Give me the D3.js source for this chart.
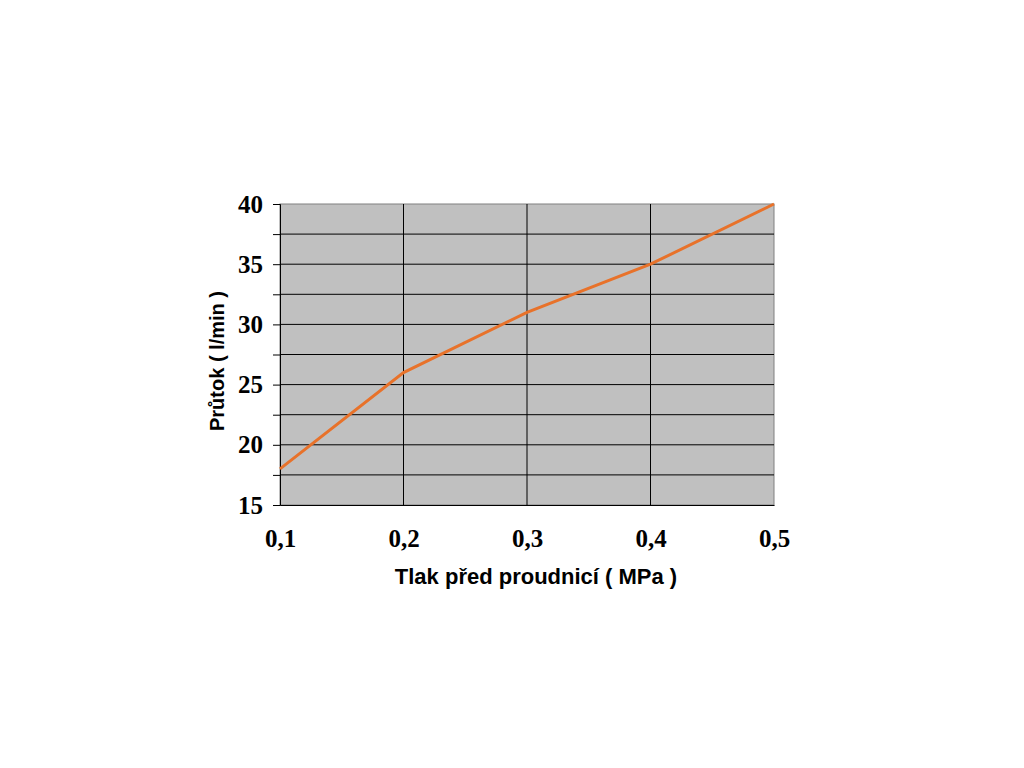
<!DOCTYPE html>
<html><head><meta charset="utf-8">
<script src="https://cdn.jsdelivr.net/npm/d3@7"></script>
<style>body{margin:0;background:#fff;}</style>
</head><body>
<svg id="c" width="1024" height="768"></svg>
<script>
const pressure = [0.1, 0.2, 0.3, 0.4, 0.5];
const flow = [18, 26, 31, 35, 40];
const xTicks = [0.1, 0.2, 0.3, 0.4, 0.5];
const yTicks = [15, 17.5, 20, 22.5, 25, 27.5, 30, 32.5, 35, 37.5, 40];
const yLabels = [15, 20, 25, 30, 35, 40];
const xTitle = "Tlak před proudnicí ( MPa )";
const yTitle = "Průtok ( l/min )";

const svg = d3.select("#c");
const L = 280, R = 774, T = 204, B = 505;
const x = d3.scaleLinear().domain([0.1, 0.5]).range([L, R]);
const y = d3.scaleLinear().domain([15, 40]).range([B, T]);

svg.append("rect").attr("x", L).attr("y", T).attr("width", R - L).attr("height", B - T)
  .attr("fill", "#c0c0c0").attr("stroke", "#808080").attr("stroke-width", 1);

// horizontal gridlines
svg.append("g").selectAll("line").data(yTicks.filter(d => d > 15 && d < 40)).join("line")
  .attr("x1", L).attr("x2", R).attr("y1", d => y(d)).attr("y2", d => y(d))
  .attr("stroke", "#000").attr("stroke-width", 1);
// vertical gridlines
svg.append("g").selectAll("line").data(xTicks.filter(d => d > 0.1 && d < 0.5)).join("line")
  .attr("y1", T).attr("y2", B).attr("x1", d => x(d)).attr("x2", d => x(d))
  .attr("stroke", "#000").attr("stroke-width", 1);

// y axis
const ya = svg.append("g").attr("transform", `translate(${L},0)`)
  .call(d3.axisLeft(y).tickValues(yTicks).tickSize(7).tickPadding(10)
    .tickFormat(d => yLabels.includes(d) ? d3.format("d")(d) : ""));
ya.selectAll("path, line").attr("stroke", "#000");
ya.selectAll("text").attr("font-family", "Liberation Serif, Times New Roman, serif")
  .attr("font-weight", "bold").attr("font-size", 25).attr("fill", "#000");

// x axis
const xa = svg.append("g").attr("transform", `translate(0,${B})`)
  .call(d3.axisBottom(x).tickValues(xTicks).tickSize(0).tickPadding(24)
    .tickFormat(d => d3.format(".1f")(d).replace(".", ",")));
xa.select("path").attr("stroke", "#000");
xa.selectAll("text").attr("font-family", "Liberation Serif, Times New Roman, serif")
  .attr("font-weight", "bold").attr("font-size", 25).attr("fill", "#000");

// line
const line = d3.line().x((d, i) => x(pressure[i])).y(d => y(d));
svg.append("path").datum(flow).attr("d", line).attr("fill", "none")
  .attr("stroke", "#e8722a").attr("stroke-width", 3);

svg.append("text").attr("x", 536).attr("y", 584).attr("text-anchor", "middle")
  .attr("font-family", "Liberation Sans, Arial, sans-serif").attr("font-weight", "bold")
  .attr("font-size", 22).text(xTitle);
svg.append("text").attr("transform", "translate(224,361) rotate(-90)").attr("text-anchor", "middle")
  .attr("font-family", "Liberation Sans, Arial, sans-serif").attr("font-weight", "bold")
  .attr("font-size", 20).text(yTitle);
</script>
</body></html>
